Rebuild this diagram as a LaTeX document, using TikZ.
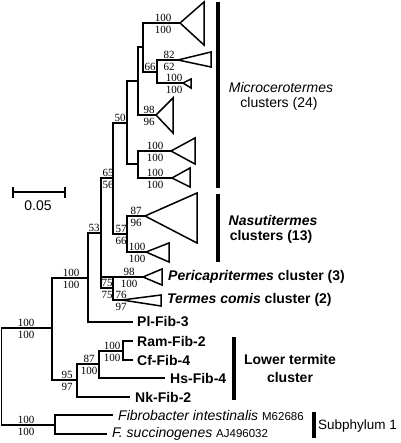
\documentclass[tikz,border=0pt]{standalone}
\usepackage{fontspec}
\setmainfont{Liberation Sans}
\newfontfamily\numfont{Liberation Serif}
\usepackage{tikz}
\usetikzlibrary{positioning}

% bootstrap values above / below a branch
\newcommand\bs[5]{%
  \node[bsup] (#1u) at (#2,#3) {#4};
  \node[bsdn] (#1d) at (#2,#3) {#5};}
\newcommand\clade[5]{%
  \draw[br] (#2) -- (#3,#4) -- (#3,#5) -- cycle;}

\begin{document}
\begin{tikzpicture}[x=1pt, y=-1pt,
  br/.style={line width=1.5pt},
  bar/.style={line width=4.5pt},
  bsup/.style={font=\numfont\fontsize{11}{13}\selectfont, inner sep=0.5pt, above=1pt},
  bsdn/.style={font=\numfont\fontsize{11}{13}\selectfont, inner sep=0.5pt, below=2.5pt},
  lab/.style={font=\fontsize{14}{16}\selectfont, inner sep=0pt},
  leaf/.style={lab, anchor=west, font=\fontsize{14}{16}\selectfont\bfseries}]

\useasboundingbox (0,0) rectangle (400,443);

% internal nodes
\coordinate (root) at (1.5,376);
\coordinate (nJ) at (52,328);
\coordinate (nK) at (55,425);
\coordinate (nG) at (88,278);
\coordinate (nL) at (77,380);
\coordinate (nH) at (101,233);
\coordinate (nE) at (113,178);
\coordinate (nI) at (113,288);
\coordinate (nC) at (127,123);
\coordinate (nF) at (127,234);
\coordinate (nB) at (138,81);
\coordinate (nD) at (138,164);
\coordinate (nA) at (143,47);
\coordinate (nA2) at (157,72);
\coordinate (nM) at (99,364);
\coordinate (nN) at (123,351);

% clade apices and leaf ends
\coordinate (t1) at (180,23);
\coordinate (t2) at (178,60);
\coordinate (t3) at (183,83);
\coordinate (t4) at (156,115);
\coordinate (t5) at (171,151);
\coordinate (t6) at (172,178);
\coordinate (t7) at (145,216);
\coordinate (t8) at (146,252);
\coordinate (t9) at (143,277);
\coordinate (t10) at (122,300);
\coordinate (pl) at (133,322);
\coordinate (ram) at (133,341);
\coordinate (cf) at (133,360);
\coordinate (hs) at (165,378);
\coordinate (nk) at (130,397);
\coordinate (fi) at (113,415);
\coordinate (fs) at (107,434);

\draw[br] (root) |- (nJ);
\draw[br] (root) |- (nK);
\draw[br] (nJ) |- (nG);
\draw[br] (nJ) |- (nL);
\draw[br] (nG) |- (nH);
\draw[br] (nG) |- (pl);
\draw[br] (nH) |- (nE);
\draw[br] (nH) |- (nI);
\draw[br] (nE) |- (nC);
\draw[br] (nE) |- (nF);
\draw[br] (nC) |- (nB);
\draw[br] (nC) |- (nD);
\draw[br] (nB) |- (nA);
\draw[br] (nB) |- (t4);
\draw[br] (nA) |- (t1);
\draw[br] (nA) |- (nA2);
\draw[br] (nA2) |- (t2);
\draw[br] (nA2) |- (t3);
\draw[br] (nD) |- (t5);
\draw[br] (nD) |- (t6);
\draw[br] (nF) |- (t7);
\draw[br] (nF) |- (t8);
\draw[br] (nI) |- (t9);
\draw[br] (nH |- t9) -- (t9);
\draw[br] (nI) |- (t10);
\draw[br] (nL) |- (nM);
\draw[br] (nL) |- (nk);
\draw[br] (nM) |- (nN);
\draw[br] (nM) |- (hs);
\draw[br] (nN) |- (ram);
\draw[br] (nN) |- (cf);
\draw[br] (nK) |- (fi);
\draw[br] (nK) |- (fs);

\clade{c1}{t1}{204}{2}{45}
\clade{c2}{t2}{211}{52}{67}
\clade{c3}{t3}{191}{79}{88}
\clade{c4}{t4}{173}{98}{133}
\clade{c5}{t5}{195}{138}{164}
\clade{c6}{t6}{190}{168}{187}
\clade{c7}{t7}{197}{193}{243}
\clade{c8}{t8}{169}{243}{262}
\clade{c9}{t9}{162}{269}{285}
\clade{c10}{t10}{161}{295}{306}

% bootstrap values
\bs{b1}{163}{23}{100}{100}
\node[bsup] (b2u) at (150,72) {66};
\bs{b3}{169}{60}{82}{62}
\bs{b4}{174}{83}{100}{100}
\bs{b5}{149}{115}{98}{96}
\bs{b6}{155}{151}{100}{100}
\bs{b7}{155}{178}{100}{100}
\node[bsup] (b8u) at (120,123) {50};
\bs{b9}{108}{178}{65}{56}
\node[bsup] (b10u) at (94,233) {53};
\bs{b11}{136}{216}{87}{96}
\bs{b12}{121}{234}{57}{66}
\bs{b13}{137}{252}{100}{100}
\bs{b14}{71}{278}{100}{100}
\bs{b15}{129}{277}{98}{100}
\bs{b16}{107}{288}{75}{75}
\bs{b17}{121}{300}{76}{97}
\bs{b18}{26}{328}{100}{100}
\bs{b19}{67}{380}{95}{97}
\bs{b20}{89}{364}{87}{100}
\bs{b21}{112}{351}{100}{100}
\bs{b22}{26}{425}{100}{100}

% leaves
\node[leaf] (lpl) at (137,322) {Pl-Fib-3};
\node[leaf] (lram) at (137,341) {Ram-Fib-2};
\node[leaf] (lcf) at (137,360) {Cf-Fib-4};
\node[leaf] (lhs) at (170,378) {Hs-Fib-4};
\node[leaf] (lnk) at (135,397) {Nk-Fib-2};
\node[leaf] (lperi) at (168,277) {\textit{Pericapritermes} cluster (3)};
\node[leaf] (lterm) at (167,300) {\textit{Termes comis} cluster (2)};
\node[lab, anchor=west] (lfi) at (118,415) {\textit{Fibrobacter intestinalis} {\fontsize{11.5}{13}\selectfont M62686}};
\node[lab, anchor=west] (lfs) at (112,434) {\textit{F. succinogenes} {\fontsize{11.5}{13}\selectfont AJ496032}};

% group bars
\draw[bar] (218,2) -- (218,188);
\draw[bar] (218,194) -- (218,262);
\draw[bar] (234,337) -- (234,400);
\draw[bar] (314,412) -- (314,438);
\node[lab] (gmic1) at (281,87) {\textit{Microcerotermes}};
\node[lab] (gmic2) at (279,104) {clusters (24)};
\node[lab, font=\fontsize{14}{16}\selectfont\bfseries] (gnas1) at (273,220) {\textit{Nasutitermes}};
\node[lab, font=\fontsize{14}{16}\selectfont\bfseries] (gnas2) at (271,237) {clusters (13)};
\node[lab, font=\fontsize{14}{16}\selectfont\bfseries] (glow1) at (290,359) {Lower termite};
\node[lab, font=\fontsize{14}{16}\selectfont\bfseries] (glow2) at (290,377) {cluster};
\node[lab, anchor=west, font=\fontsize{13.5}{16}\selectfont] (gsub) at (318,426) {Subphylum 1};

% scale bar
\coordinate (s0) at (13,192);
\coordinate (s1) at (65,192);
\draw[line width=1.2pt] (s0) -- (s1);
\draw[line width=1.2pt] ([yshift=5pt]s0) -- ([yshift=-6pt]s0);
\draw[line width=1.2pt] ([yshift=5pt]s1) -- ([yshift=-6pt]s1);
\node[lab] (scl) at (38,206) {0.05};
\end{tikzpicture}
\end{document}
